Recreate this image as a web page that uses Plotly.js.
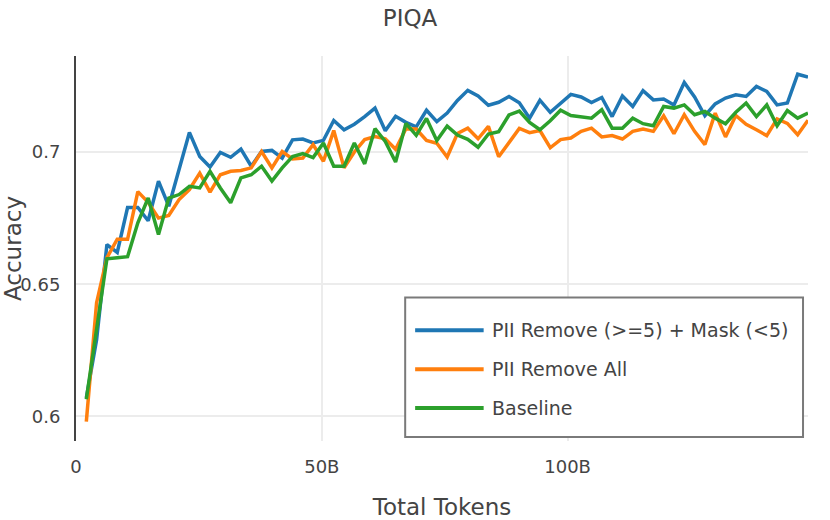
<!DOCTYPE html>
<html>
<head>
<meta charset="utf-8">
<script src="https://cdn.plot.ly/plotly-3.0.1.min.js"></script>
<style>html,body{margin:0;padding:0;background:#fff;}#chart{width:830px;height:520px;}</style>
</head>
<body>
<div id="chart"></div>
<script>
// Total tokens (billions) at each evaluated checkpoint
var tokensB = [2.10,4.19,6.29,8.39,10.49,12.58,14.68,16.78,18.87,20.97,23.07,25.17,27.26,29.36,31.46,33.55,35.65,37.75,39.85,41.94,44.04,46.14,48.23,50.33,52.43,54.53,56.62,58.72,60.82,62.91,65.01,67.11,69.21,71.30,73.40,75.50,77.59,79.69,81.79,83.89,85.98,88.08,90.18,92.27,94.37,96.47,98.57,100.66,102.76,104.86,106.95,109.05,111.15,113.25,115.34,117.44,119.54,121.63,123.73,125.83,127.93,130.02,132.12,134.22,136.31,138.41,140.51,142.61,144.70,146.80,148.90];

var removeMask = [0.607,0.629,0.665,0.662,0.679,0.679,0.674,0.689,0.6795,0.694,0.7074,0.6983,0.6943,0.6998,0.698,0.7011,0.6946,0.7002,0.7006,0.6977,0.7046,0.7049,0.7034,0.7044,0.7119,0.7084,0.7105,0.7134,0.7166,0.708,0.7135,0.7112,0.7095,0.7158,0.7115,0.7147,0.7195,0.7233,0.7212,0.7177,0.7188,0.721,0.7186,0.7128,0.7196,0.715,0.7182,0.7218,0.7208,0.7187,0.7206,0.7134,0.7212,0.7172,0.7232,0.7197,0.72,0.7178,0.7263,0.7208,0.7137,0.7182,0.7204,0.7216,0.721,0.7248,0.7229,0.7178,0.7185,0.7294,0.7283];

var removeAll = [0.598,0.643,0.660,0.667,0.667,0.685,0.681,0.675,0.676,0.682,0.6858,0.692,0.6848,0.6914,0.6927,0.693,0.694,0.7002,0.694,0.7002,0.6974,0.6977,0.7028,0.6965,0.7081,0.694,0.7,0.7047,0.7058,0.705,0.701,0.7088,0.7087,0.7044,0.7033,0.6981,0.707,0.709,0.705,0.7097,0.6982,0.7036,0.7089,0.7073,0.7081,0.7016,0.7047,0.7053,0.7078,0.709,0.7057,0.7062,0.7049,0.7078,0.7087,0.7078,0.7137,0.7069,0.7141,0.7078,0.7028,0.7147,0.7057,0.7138,0.7105,0.7084,0.7062,0.7125,0.7108,0.7065,0.712];

var baseline = [0.6065,0.633,0.6596,0.660,0.6604,0.6732,0.6826,0.6688,0.6826,0.6839,0.687,0.6864,0.6927,0.6864,0.6808,0.6902,0.6914,0.6946,0.689,0.694,0.6983,0.6994,0.6979,0.7034,0.6946,0.6946,0.7034,0.6955,0.7088,0.704,0.6962,0.7108,0.7063,0.7127,0.7043,0.7098,0.7064,0.7048,0.7018,0.7068,0.7077,0.714,0.7155,0.7112,0.7084,0.7118,0.7158,0.7138,0.7132,0.7128,0.716,0.709,0.709,0.7128,0.7107,0.7099,0.7172,0.7166,0.7178,0.7141,0.7153,0.7128,0.7107,0.715,0.7185,0.7134,0.7178,0.7099,0.7157,0.7128,0.7147];

var seriesNames = ['PII Remove (>=5) + Mask (<5)', 'PII Remove All', 'Baseline'];
var seriesColors = ['#1f77b4', '#ff7f0e', '#2ca02c'];
var xTickVals = [0, 50, 100];
var xTickText = ['0', '50B', '100B'];
var yTickVals = [0.6, 0.65, 0.7];
var yTickText = ['0.6', '0.65', '0.7'];

var FONT = 'Verdana, "DejaVu Sans", sans-serif';
var allY = [removeMask, removeAll, baseline];

var traces = allY.map(function (ys, i) {
  return {
    type: 'scatter', mode: 'lines', x: tokensB, y: ys, name: seriesNames[i],
    line: {color: seriesColors[i], width: 3.5}, showlegend: false
  };
});

// custom legend (box + samples + labels) in paper coordinates
var legX0 = 0.4497, legX1 = 0.9932, legY0 = 0.0104, legY1 = 0.373;
var rowY = [0.2876, 0.1865, 0.0855];
var shapes = [{type: 'rect', xref: 'paper', yref: 'paper', x0: legX0, x1: legX1, y0: legY0, y1: legY1,
  line: {color: '#7a7a7a', width: 2}, fillcolor: '#ffffff', layer: 'above'}];
var annotations = [];
seriesNames.forEach(function (n, i) {
  shapes.push({type: 'line', xref: 'paper', yref: 'paper', x0: 0.4633, x1: 0.5569, y0: rowY[i], y1: rowY[i],
    line: {color: seriesColors[i], width: 4}, layer: 'above'});
  annotations.push({xref: 'paper', yref: 'paper', x: 0.5658, y: rowY[i], xanchor: 'left', yanchor: 'middle',
    text: n, showarrow: false, font: {family: FONT, size: 19, color: '#444'}});
});

var layout = {
  width: 830, height: 520,
  margin: {l: 76, r: 22, t: 56, b: 79, pad: 0},
  paper_bgcolor: '#fff', plot_bgcolor: '#fff',
  font: {family: FONT, size: 18, color: '#444'},
  title: {text: 'PIQA', xref: 'container', x: 0.494, xanchor: 'center', yref: 'container', y: 0.965, yanchor: 'middle',
    font: {family: FONT, size: 23, color: '#444'}},
  xaxis: {
    range: [0, 148.9], tickvals: xTickVals, ticktext: xTickText,
    showgrid: true, gridcolor: '#ececec', gridwidth: 2, zeroline: false, showline: false,
    ticks: 'outside', ticklen: 9, tickcolor: 'rgba(0,0,0,0)',
    tickfont: {family: FONT, size: 18, color: '#444'},
    title: {text: 'Total Tokens', font: {family: FONT, size: 23, color: '#444'}, standoff: 23},
    automargin: false
  },
  yaxis: {
    range: [0.5907, 0.7363], tickvals: yTickVals, ticktext: yTickText,
    showgrid: true, gridcolor: '#ececec', gridwidth: 2, zeroline: false,
    showline: true, linecolor: '#444', linewidth: 2,
    ticks: 'outside', ticklen: 10, tickcolor: 'rgba(0,0,0,0)',
    tickfont: {family: FONT, size: 18, color: '#444'},
    title: {text: 'Accuracy', font: {family: FONT, size: 23, color: '#444'}, standoff: 2},
    automargin: false
  },
  shapes: shapes,
  annotations: annotations,
  showlegend: false
};

Plotly.newPlot('chart', traces, layout, {displayModeBar: false, staticPlot: true});
</script>
</body>
</html>
